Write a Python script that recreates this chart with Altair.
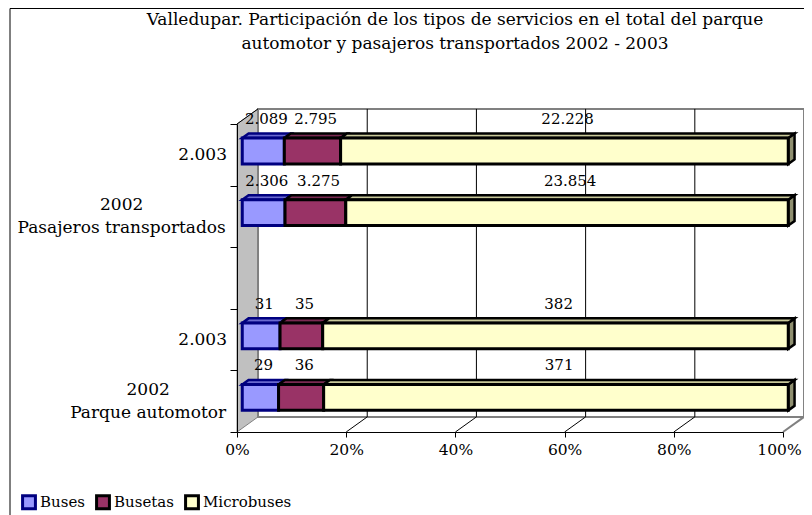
import altair as alt
import pandas as pd

# ---------------- data ----------------
title_lines = [
    "Valledupar. Participación de los tipos de servicios en el total del parque",
    "automotor y pasajeros transportados 2002 - 2003",
]
# categories from top to bottom ("" = empty slot)
categories = ["2.003", "2002\nPasajeros transportados", "", "2.003", "2002\nParque automotor"]
series_names = ["Buses", "Busetas", "Microbuses"]
buses = [2089, 2306, None, 31, 29]
busetas = [2795, 3275, None, 35, 36]
microbuses = [22228, 23854, None, 382, 371]
pct_ticks = [0, 20, 40, 60, 80, 100]

# ---------------- style ----------------
FRONT = ["#9999FF", "#993366", "#FFFFCC"]
TOP = ["#6A6AD0", "#7A2A52", "#C9C99A"]
EDGE = ["#000080", "#000000", "#000000"]
SIDE = "#8F8F70"
FONT = "DejaVu Serif"
CAT_SIZE = 17
W, H = 546, 308
DX, DY = 3.85, 0.245      # 3-D depth in data units (percent, band units)
D1, D2 = 0.25, 0.55       # bar depth range (fraction of full depth)
HALF = 0.21               # half bar thickness (band units)
n = len(categories)

# approximate DejaVu Serif advance widths (em) used to centre multi-line labels
EM = {"P": .733, "a": .596, "s": .513, "j": .344, "e": .592, "r": .478, "o": .602,
      " ": .318, "t": .402, "n": .644, "p": .640, "d": .640, "q": .640, "u": .644,
      "m": .948, "0": .636, "2": .636}


def text_width(s, size):
    return sum(EM.get(ch, .6) for ch in s) * size


rows_front, rows_top, rows_side, rows_lab = [], [], [], []
for i, cat in enumerate(categories):
    vals = [buses[i], busetas[i], microbuses[i]]
    if vals[0] is None:
        continue
    total = sum(vals)
    c = n - i - 0.5
    yb = c + D1 * DY - HALF
    yt = c + D1 * DY + HALF
    ddx, ddy = (D2 - D1) * DX, (D2 - D1) * DY
    start = 0.0
    for k, (s, v) in enumerate(zip(series_names, vals)):
        p = v / total * 100
        x0, x1 = start + D1 * DX, start + p + D1 * DX
        seg = f"{i}-{k}"
        rows_front.append(dict(serie=s, x0=x0, x1=x1, y0=yb, y1=yt))
        rows_top.append(dict(seg=seg, fill=TOP[k], edge=EDGE[k], y=yt, xa=x0, xb=x1))
        rows_top.append(dict(seg=seg, fill=TOP[k], edge=EDGE[k], y=yt + ddy, xa=x0 + ddx, xb=x1 + ddx))
        if k == len(vals) - 1:
            rows_side.append(dict(seg=seg, x=x1, ya=yb, yb=yt))
            rows_side.append(dict(seg=seg, x=x1 + ddx, ya=yb + ddy, yb=yt + ddy))
        rows_lab.append(dict(x=start + p / 2 + 0.4 * DX, y=c + 0.58,
                             text=f"{v:,}".replace(",", ".")))
        start += p

df_front = pd.DataFrame(rows_front)
df_top = pd.DataFrame(rows_top)
df_side = pd.DataFrame(rows_side)
df_lab = pd.DataFrame(rows_lab)

cat_single, cat_multi = [], []
for i, cat in enumerate(categories):
    if not cat:
        continue
    c = n - i - 0.5
    lines = cat.split("\n")
    if len(lines) == 1:
        cat_single.append(dict(x=-10 / W * 100, y=c, text=cat))
    else:
        w = max(text_width(l, CAT_SIZE) for l in lines)
        cat_multi.append(dict(x=-(10 + w / 2) / W * 100, y=c, text=cat))
df_cs = pd.DataFrame(cat_single)
df_cm = pd.DataFrame(cat_multi)

df_lwall = pd.DataFrame([dict(x=0, ya=0, yb=n), dict(x=DX, ya=DY, yb=n + DY)])
df_bwall = pd.DataFrame([dict(xa=DX, xb=100 + DX, ya=DY, yb=n + DY)])
df_grid = pd.DataFrame([dict(x=t + DX, ya=DY, yb=n + DY) for t in pct_ticks[1:-1]])
df_diag = pd.DataFrame([dict(x=t, x2=t + DX, y=0, y2=DY, col="black" if t < 100 else "#808080",
                             w=1 if t < 100 else 2) for t in pct_ticks[1:]]
                       + [dict(x=0, x2=DX, y=n, y2=n + DY, col="black", w=1)])

xs = alt.Scale(domain=[0, 100], nice=False, zero=False)
ys = alt.Scale(domain=[0, n], nice=False, zero=False)
X_AX = alt.Axis(values=pct_ticks, labelExpr="datum.value + '%'", grid=False, domainColor="black",
                tickColor="black", tickSize=5, labelFont=FONT, labelFontSize=15.5, labelColor="black",
                labelPadding=5, title=None, zindex=1, labelFlush=False, labelOverlap=False,
                labelOffset={"condition": {"test": "datum.value == 100", "value": -4}, "value": 0})
Y_AX = alt.Axis(values=list(range(n + 1)), labels=False, grid=False, domainColor="black",
                tickColor="black", tickSize=7, title=None, zindex=1)


def X(f, **kw):
    return alt.X(f, scale=xs, axis=X_AX, **kw)


def Y(f, **kw):
    return alt.Y(f, scale=ys, axis=Y_AX, **kw)


frame = alt.Chart(pd.DataFrame({"a": [0]})).mark_rect(
    fill="transparent", stroke="black", strokeWidth=1
).encode(x=alt.value(-227), x2=alt.value(W + 40), y=alt.value(-115.5), y2=alt.value(H + 110))

lwall = alt.Chart(df_lwall).mark_area(
    orient="vertical", fill="#C0C0C0", stroke="#808080", strokeWidth=1
).encode(x=X("x:Q"), y=Y("ya:Q", stack=None), y2="yb:Q")

bwall = alt.Chart(df_bwall).mark_rect(fill="white", stroke="#808080", strokeWidth=2).encode(
    x=X("xa:Q"), x2="xb:Q", y=Y("ya:Q"), y2="yb:Q")

grid = alt.Chart(df_grid).mark_rule(color="black", strokeWidth=1).encode(
    x=X("x:Q"), y=Y("ya:Q"), y2="yb:Q")

diag = alt.Chart(df_diag).mark_rule().encode(
    x=X("x:Q"), x2="x2:Q", y=Y("y:Q"), y2="y2:Q",
    color=alt.Color("col:N", scale=None), strokeWidth=alt.StrokeWidth("w:Q", scale=None))

side = alt.Chart(df_side).mark_area(
    orient="vertical", fill=SIDE, stroke="black", strokeWidth=2.5, strokeJoin="miter"
).encode(x=X("x:Q"), y=Y("ya:Q", stack=None), y2="yb:Q", detail="seg:N")

top = alt.Chart(df_top).mark_area(orient="horizontal", strokeWidth=2.5, strokeJoin="miter").encode(
    y=Y("y:Q"), x=X("xa:Q", stack=None), x2="xb:Q",
    fill=alt.Fill("fill:N", scale=None),
    stroke=alt.Stroke("edge:N", scale=None),
    detail="seg:N",
)

legend = alt.Legend(
    orient="none", legendX=-216, legendY=370, direction="horizontal", title=None,
    symbolType="square", symbolSize=165, symbolStrokeWidth=3, labelFont=FONT,
    labelFontSize=15, labelColor="black", columnPadding=5, labelOffset=3)

front = alt.Chart(df_front).mark_rect(strokeWidth=3, strokeJoin="miter").encode(
    x=X("x0:Q"), x2="x1:Q", y=Y("y0:Q"), y2="y1:Q",
    color=alt.Color("serie:N", scale=alt.Scale(domain=series_names, range=FRONT), legend=legend),
    stroke=alt.Stroke("serie:N", scale=alt.Scale(domain=series_names, range=EDGE), legend=legend),
)

labels = alt.Chart(df_lab).mark_text(font=FONT, fontSize=15, color="black", baseline="middle").encode(
    x=X("x:Q"), y=Y("y:Q"), text="text:N")

cats1 = alt.Chart(df_cs).mark_text(font=FONT, fontSize=CAT_SIZE, color="black", align="right",
                                   baseline="middle").encode(
    x=X("x:Q"), y=Y("y:Q"), text="text:N")

cats2 = alt.Chart(df_cm).mark_text(font=FONT, fontSize=CAT_SIZE, color="black", align="center",
                                   baseline="middle", lineBreak="\n", lineHeight=23,
                                   dy=-11.5).encode(
    x=X("x:Q"), y=Y("y:Q"), text="text:N")

chart = alt.layer(
    frame, lwall, bwall, grid, diag, side, top, front, labels, cats1, cats2
).properties(
    width=W, height=H,
    title=alt.TitleParams(text=title_lines, anchor="middle", dx=-55, dy=45, fontSize=17, font=FONT,
                          fontWeight="normal", color="black", lineHeight=24, offset=0),
    autosize=alt.AutoSizeParams(type="none"),
    padding={"left": 229, "top": 116, "right": 21, "bottom": 83},
).configure_view(stroke=None)

chart.save("out.html", embed_options={"renderer": "svg", "actions": False})
